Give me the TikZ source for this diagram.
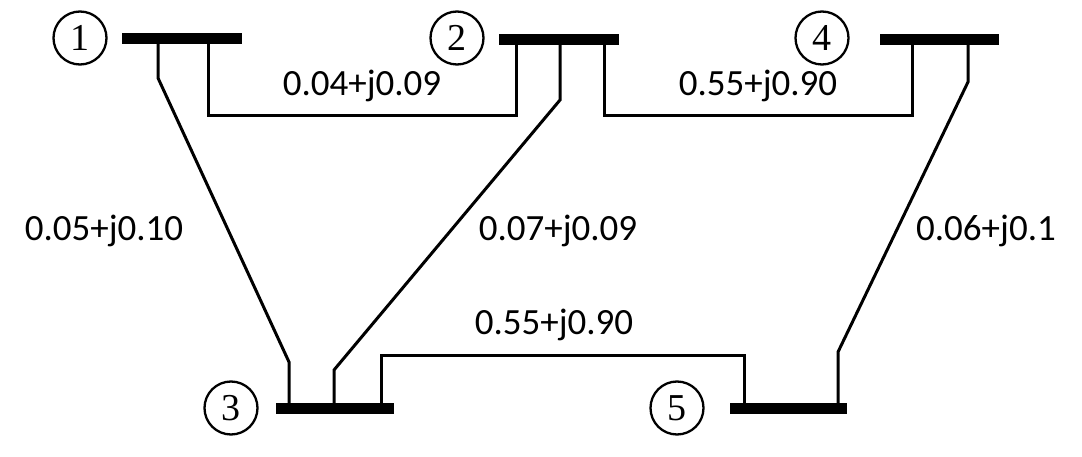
\documentclass[tikz,border=0pt]{standalone}
\usepackage{fontspec}
\setmainfont{Carlito}
\newfontfamily\numfont{Liberation Serif}
\begin{document}
\begin{tikzpicture}[x=1pt,y=-1pt,
  bus/.style={line width=11pt},
  ln/.style={line width=3pt},
  num/.style={circle,draw,line width=2.3pt,minimum size=53pt,inner sep=0pt,font=\numfont\fontsize{38}{38}\selectfont},
  lbl/.style={font=\fontsize{37}{37}\selectfont}]
\useasboundingbox (0,0) rectangle (1082,457);
\coordinate (b1l) at (122,39); \coordinate (b1r) at (242,39);
\coordinate (b2l) at (499,40); \coordinate (b2r) at (619,40);
\coordinate (b4l) at (880,40); \coordinate (b4r) at (999,40);
\coordinate (b3l) at (276,408); \coordinate (b3r) at (394,408);
\coordinate (b5l) at (730,408); \coordinate (b5r) at (847,408);
\draw[bus] (b1l)--(b1r); \draw[bus] (b2l)--(b2r); \draw[bus] (b4l)--(b4r);
\draw[bus] (b3l)--(b3r); \draw[bus] (b5l)--(b5r);
\node[num] (n1) at (80,38) {1};
\node[num] (n2) at (457,38) {2};
\node[num] (n4) at (822,38) {4};
\node[num] (n3) at (231,408) {3};
\node[num] (n5) at (677,408) {5};
\draw[ln] (208,39) -- (208,116) -- (516,116) -- (516,40);
\draw[ln] (158,39) -- (158,78) -- (289,362) -- (289,408);
\draw[ln] (560,40) -- (560,100) -- (334,370) -- (334,408);
\draw[ln] (604,40) -- (604,116) -- (912,116) -- (912,40);
\draw[ln] (968,40) -- (968,82) -- (838,352) -- (838,408);
\draw[ln] (381,408) -- (381,355) -- (744,355) -- (744,408);
\node[lbl] (l12) at (362,86) {0.04+j0.09};
\node[lbl] (l24) at (758,86) {0.55+j0.90};
\node[lbl] (l13) at (104,231) {0.05+j0.10};
\node[lbl] (l23) at (558,231) {0.07+j0.09};
\node[lbl] (l45) at (986,231) {0.06+j0.1};
\node[lbl] (l35) at (554,325) {0.55+j0.90};
\end{tikzpicture}
\end{document}
